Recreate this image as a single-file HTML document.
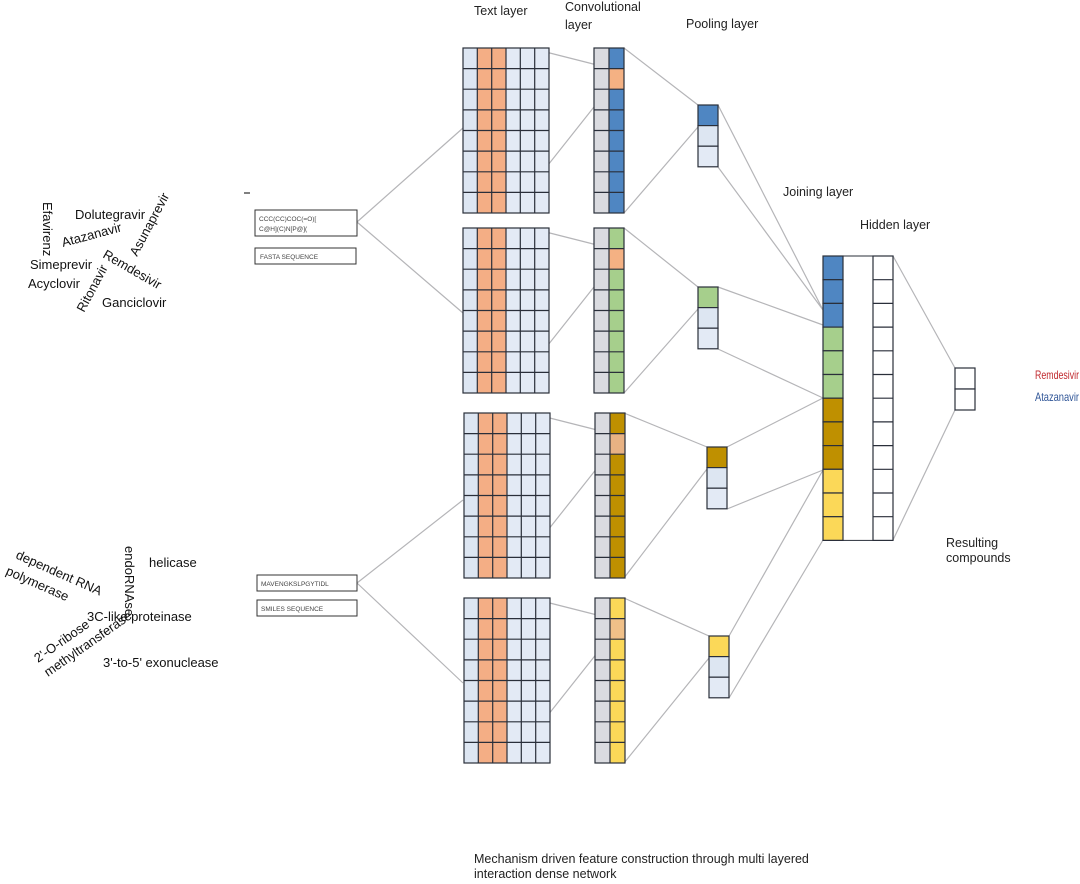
<!DOCTYPE html>
<html><head><meta charset="utf-8"><style>
body{margin:0;background:#fff;}
svg text{font-family:"Liberation Sans",sans-serif;}
</style></head><body>
<svg width="1080" height="879" viewBox="0 0 1080 879" xmlns="http://www.w3.org/2000/svg">
<defs>
<g id="tg">
<rect x="0" y="0" width="14.3" height="165" fill="#dde6f2"/>
<rect x="14.3" y="0" width="28.7" height="165" fill="#f4ae85"/>
<rect x="43" y="0" width="43" height="165" fill="#e3eaf5"/>
<g stroke="#2a2f3a" stroke-width="1.2" fill="none">
<rect x="0" y="0" width="86" height="165"/>
<path d="M14.3 0V165M28.7 0V165M43 0V165M57.3 0V165M71.7 0V165"/>
<path d="M0 20.6H86M0 41.2H86M0 61.9H86M0 82.5H86M0 103.1H86M0 123.8H86M0 144.4H86"/>
</g>
</g>
<g id="cg">
<rect x="0" y="0" width="15" height="165" fill="#dadbe0"/>
</g>
<g id="cl" stroke="#2a2f3a" stroke-width="1.2" fill="none">
<rect x="0" y="0" width="30" height="165"/>
<path d="M15 0V165"/>
<path d="M0 20.6H30M0 41.2H30M0 61.9H30M0 82.5H30M0 103.1H30M0 123.8H30M0 144.4H30"/>
</g>
</defs>

<g stroke="#b5b5b8" stroke-width="1.2" fill="none">
<path d="M357 222L463 128M357 222L463 313"/>
<path d="M357 583L463 500M357 583L463 683"/>
<path d="M530 48L609 68M510 213L609 88"/>
<path d="M530 228L609 248M510 393L609 268"/>
<path d="M530 413L609 433M510 578L609 453"/>
<path d="M530 598L609 618M510 763L609 638"/>
<path d="M624 48L698 105M624 213L698 127"/>
<path d="M624 228L698 287M624 393L698 309"/>
<path d="M624 413L707 447M624 578L707 469"/>
<path d="M624 598L709 636M624 763L709 658"/>
<path d="M718 105L823 310M718 167L823 310"/>
<path d="M718 287L823 325M718 349L823 398"/>
<path d="M727 447L823 398M727 509L823 470"/>
<path d="M729 636L823 470M729 698L823 540"/>
<path d="M893 256L955 368M893 540L955 410"/>
</g>

<use href="#tg" x="463" y="48"/>
<use href="#tg" x="463" y="228"/>
<use href="#tg" x="464" y="413"/>
<use href="#tg" x="464" y="598"/>

<g transform="translate(594,48)"><use href="#cg"/><rect x="15" y="0" width="15" height="165" fill="#4f86c2"/><rect x="15" y="20.6" width="15" height="20.6" fill="#f4b183"/><use href="#cl"/></g>
<g transform="translate(594,228)"><use href="#cg"/><rect x="15" y="0" width="15" height="165" fill="#a6cf8c"/><rect x="15" y="20.6" width="15" height="20.6" fill="#f4b183"/><use href="#cl"/></g>
<g transform="translate(595,413)"><use href="#cg"/><rect x="15" y="0" width="15" height="165" fill="#bf9000"/><rect x="15" y="20.6" width="15" height="20.6" fill="#e8b283"/><use href="#cl"/></g>
<g transform="translate(595,598)"><use href="#cg"/><rect x="15" y="0" width="15" height="165" fill="#fbd858"/><rect x="15" y="20.6" width="15" height="20.6" fill="#f0c088"/><use href="#cl"/></g>

<g stroke="#2a2f3a" stroke-width="1.2">
<rect x="698" y="105" width="20" height="20.6" fill="#4f86c2"/><rect x="698" y="125.6" width="20" height="20.6" fill="#dde6f2"/><rect x="698" y="146.2" width="20" height="20.6" fill="#e3eaf5"/>
<rect x="698" y="287" width="20" height="20.6" fill="#a6cf8c"/><rect x="698" y="307.6" width="20" height="20.6" fill="#dde6f2"/><rect x="698" y="328.2" width="20" height="20.6" fill="#e3eaf5"/>
<rect x="707" y="447" width="20" height="20.6" fill="#bf9000"/><rect x="707" y="467.6" width="20" height="20.6" fill="#dde6f2"/><rect x="707" y="488.2" width="20" height="20.6" fill="#e3eaf5"/>
<rect x="709" y="636" width="20" height="20.6" fill="#fbd858"/><rect x="709" y="656.6" width="20" height="20.6" fill="#dde6f2"/><rect x="709" y="677.2" width="20" height="20.6" fill="#e3eaf5"/>
</g>

<g stroke="#2a2f3a" stroke-width="1.2">
<rect x="823" y="256" width="20" height="23.7" fill="#4f86c2"/>
<rect x="823" y="279.7" width="20" height="23.7" fill="#4f86c2"/>
<rect x="823" y="303.4" width="20" height="23.7" fill="#4f86c2"/>
<rect x="823" y="327.1" width="20" height="23.7" fill="#a6cf8c"/>
<rect x="823" y="350.8" width="20" height="23.7" fill="#a6cf8c"/>
<rect x="823" y="374.5" width="20" height="23.7" fill="#a6cf8c"/>
<rect x="823" y="398.2" width="20" height="23.7" fill="#bf9000"/>
<rect x="823" y="421.9" width="20" height="23.7" fill="#bf9000"/>
<rect x="823" y="445.6" width="20" height="23.7" fill="#bf9000"/>
<rect x="823" y="469.3" width="20" height="23.7" fill="#fbd858"/>
<rect x="823" y="493" width="20" height="23.7" fill="#fbd858"/>
<rect x="823" y="516.7" width="20" height="23.7" fill="#fbd858"/>
<rect x="823" y="256" width="70" height="284.4" fill="none" stroke-width="1"/>
<rect x="873" y="256" width="20" height="284.4" fill="#fff"/>
<path d="M873 279.7h20M873 303.4h20M873 327.1h20M873 350.8h20M873 374.5h20M873 398.2h20M873 421.9h20M873 445.6h20M873 469.3h20M873 493h20M873 516.7h20" fill="none"/>
<rect x="955" y="368" width="20" height="21" fill="#fff"/>
<rect x="955" y="389" width="20" height="21" fill="#fff"/>
</g>

<g stroke="#333" stroke-width="1" fill="#fff">
<rect x="255" y="210" width="102" height="26"/>
<rect x="255" y="248" width="101" height="16"/>
<rect x="257" y="575" width="100" height="16"/>
<rect x="257" y="600" width="100" height="16"/>
</g>
<path d="M244 193h6" stroke="#555" stroke-width="1.5"/>
<g font-size="6.5" fill="#444">
<text x="259" y="221">CCC(CC)COC(=O)[</text>
<text x="259" y="231">C@H](C)N[P@](</text>
<text x="260" y="259">FASTA SEQUENCE</text>
<text x="261" y="586">MAVENGKSLPGYTIDL</text>
<text x="261" y="611">SMILES SEQUENCE</text>
</g>

<g font-size="12.5" fill="#222">
<text x="474" y="15">Text layer</text>
<text x="565" y="11">Convolutional</text>
<text x="565" y="29">layer</text>
<text x="686" y="28">Pooling layer</text>
<text x="783" y="196">Joining layer</text>
<text x="860" y="229">Hidden layer</text>
<text x="946" y="547">Resulting</text>
<text x="946" y="562">compounds</text>
<text x="474" y="863">Mechanism driven feature construction through multi layered</text>
<text x="474" y="878">interaction dense network</text>
</g>
<text x="1035" y="379" font-size="12" fill="#c0282d" textLength="44" lengthAdjust="spacingAndGlyphs">Remdesivir</text>
<text x="1035" y="401" font-size="12" fill="#2f5597" textLength="44" lengthAdjust="spacingAndGlyphs">Atazanavir</text>

<g font-size="13" fill="#111">
<text x="75" y="219">Dolutegravir</text>
<text transform="translate(63,247) rotate(-15)">Atazanavir</text>
<text x="30" y="269">Simeprevir</text>
<text x="28" y="288">Acyclovir</text>
<text x="102" y="307">Ganciclovir</text>
<text transform="translate(43,202) rotate(90)">Efavirenz</text>
<text transform="translate(137,257) rotate(-62)">Asunaprevir</text>
<text transform="translate(102,257) rotate(30)">Remdesivir</text>
<text transform="translate(84,313) rotate(-62)">Ritonavir</text>
</g>

<g font-size="13" fill="#111">
<text x="149" y="567">helicase</text>
<text transform="translate(15,558) rotate(24)">dependent RNA</text>
<text transform="translate(5,574) rotate(24)">polymerase</text>
<text transform="translate(125,546) rotate(90)">endoRNAse</text>
<text x="87" y="621">3C-like proteinase</text>
<text transform="translate(38,663) rotate(-35)">2'-O-ribose</text>
<text transform="translate(48,677) rotate(-35)">methyltransferase</text>
<text x="103" y="667">3'-to-5' exonuclease</text>
</g>
</svg>
</body></html>
